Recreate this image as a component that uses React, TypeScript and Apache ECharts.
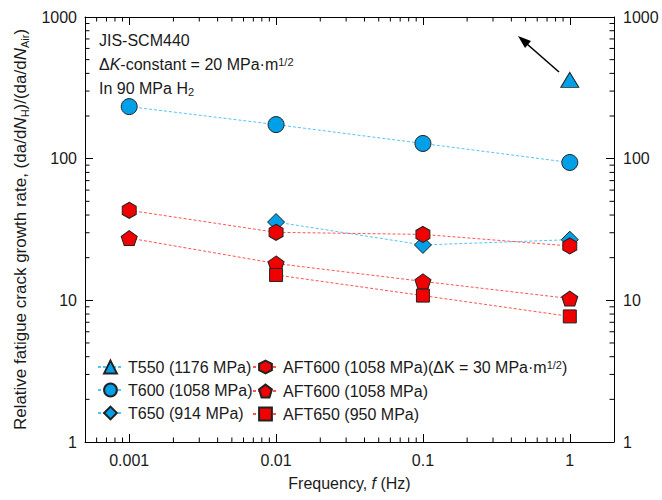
import React, { useEffect, useRef } from "react";
import * as echarts from "echarts";

const FONT = "'Liberation Sans', Arial, Helvetica, sans-serif";
const TXT = "#1a1a1a";
const BLUE = "#00A0E9";
const RED = "#F00000";
const BLUE_LINE = "#55C4F5";
const RED_LINE = "#FF5555";

// Frequencies (Hz)
const xT550 = [1];
const yT550 = [360];
const xT600 = [0.001, 0.01, 0.1, 1];
const yT600 = [233, 174, 128, 94];
const xT650 = [0.01, 0.1, 1];
const yT650 = [35.7, 24.6, 26.8];
const xAFT600dk30 = [0.001, 0.01, 0.1, 1];
const yAFT600dk30 = [43.2, 30.2, 29.2, 24.2];
const xAFT600 = [0.001, 0.01, 0.1, 1];
const yAFT600 = [27.5, 18.2, 13.6, 10.3];
const xAFT650 = [0.01, 0.1, 1];
const yAFT650 = [15.1, 10.8, 7.7];

const xTickValues = [0.001, 0.01, 0.1, 1];
const xTickLabels = ["0.001", "0.01", "0.1", "1"];
const yTickValues = [1, 10, 100, 1000];
const yTickLabels = ["1", "10", "100", "1000"];
const xMinorTicks = [
  0.0006, 0.0007, 0.0008, 0.0009,
  0.002, 0.003, 0.004, 0.005, 0.006, 0.007, 0.008, 0.009,
  0.02, 0.03, 0.04, 0.05, 0.06, 0.07, 0.08, 0.09,
  0.2, 0.3, 0.4, 0.5, 0.6, 0.7, 0.8, 0.9,
];
const yMinorTicks = [
  2, 3, 4, 5, 6, 7, 8, 9,
  20, 30, 40, 50, 60, 70, 80, 90,
  200, 300, 400, 500, 600, 700, 800, 900,
];

const names = [
  "T550 (1176 MPa)",
  "T600 (1058 MPa)",
  "T650 (914 MPa)",
  "AFT600 (1058 MPa)(ΔK = 30 MPa·m1/2)",
  "AFT600 (1058 MPa) ",
  "AFT650 (950 MPa)",
];

const HEX = "path://M0,-1L0.866,-0.5L0.866,0.5L0,1L-0.866,0.5L-0.866,-0.5Z";
const PENT = "path://M0,-1L0.951,-0.309L0.588,0.809L-0.588,0.809L-0.951,-0.309Z";

const zip = (xs: number[], ys: number[]) => xs.map((x, i) => [x, ys[i]]);

function labelFor(values: number[], labels: string[]) {
  return (v: number) => {
    for (let i = 0; i < values.length; i++) {
      if (Math.abs(v - values[i]) / values[i] < 1e-6) return labels[i];
    }
    return "";
  };
}

function mkSeries(
  name: string,
  data: number[][],
  symbol: string,
  size: number | number[],
  fill: string,
  line: string
) {
  return {
    name,
    type: "line",
    data,
    symbol,
    symbolSize: size,
    itemStyle: { color: fill, borderColor: "#222", borderWidth: 1 },
    lineStyle: { color: line, width: 1, type: [3, 2] },
    xAxisIndex: 0,
    yAxisIndex: 0,
    z: 3,
  };
}

const legendText = {
  color: TXT,
  fontSize: 16,
  fontFamily: FONT,
  lineHeight: 16,
  rich: {
    sup: { fontSize: 11, fontFamily: FONT, color: TXT, verticalAlign: "top", lineHeight: 11, padding: [0, 0, 6, 0] },
  },
};

export default function App() {
  const ref = useRef<HTMLDivElement>(null);
  useEffect(() => {
    if (!ref.current) return;
    const chart = echarts.init(ref.current, undefined, { renderer: "svg" });
    const axisLine = { show: true, lineStyle: { color: "#000", width: 1 } };
    const xCommon = {
      type: "log",
      min: 0.0005,
      max: 2,
      splitLine: { show: false },
      axisLine,
    };
    const yCommon = {
      type: "log",
      min: 1,
      max: 1000,
      splitLine: { show: false },
      axisLine,
    };
    const legendCommon = {
      orient: "vertical",
      top: 359,
      itemWidth: 25,
      itemHeight: 16,
      itemGap: 7,
      padding: 0,
      selectedMode: false,
      textStyle: legendText,
    };
    const option = {
      animation: false,
      textStyle: { fontFamily: FONT },
      grid: { left: 85, right: 48, top: 17, bottom: 58, containLabel: false },
      xAxis: [
        {
          ...xCommon,
          position: "bottom",
          axisTick: { inside: true, length: 8, lineStyle: { color: "#000" } },
          axisLabel: {
            formatter: labelFor(xTickValues, xTickLabels),
            color: TXT,
            fontSize: 16,
            fontFamily: FONT,
            margin: 10,
            showMinLabel: true,
            showMaxLabel: true,
          },
          name: "Frequency, {i|f} (Hz)",
          nameLocation: "middle",
          nameGap: 33,
          nameTextStyle: {
            color: TXT,
            fontSize: 16,
            fontFamily: FONT,
            rich: { i: { fontStyle: "italic", fontSize: 16, fontFamily: FONT, color: TXT } },
          },
        },
        {
          ...xCommon,
          position: "top",
          axisTick: { inside: true, length: 8, lineStyle: { color: "#000" } },
          axisLabel: { show: false },
        },
      ],
      yAxis: [
        {
          ...yCommon,
          position: "left",
          axisTick: { inside: true, length: 8, lineStyle: { color: "#000" } },
          axisLabel: {
            formatter: labelFor(yTickValues, yTickLabels),
            color: TXT,
            fontSize: 16,
            fontFamily: FONT,
            margin: 8,
          },
          name:
            "Relative fatigue crack growth rate, (da/d{i|N}{sub|H})/(da/d{i|N}{sub|Air})",
          nameLocation: "middle",
          nameGap: 54,
          nameTextStyle: {
            color: TXT,
            fontSize: 17,
            fontFamily: FONT,
            lineHeight: 20,
            rich: {
              i: { fontStyle: "italic", fontSize: 17, fontFamily: FONT, color: TXT, lineHeight: 20 },
              sub: { fontSize: 11, fontFamily: FONT, color: TXT, verticalAlign: "bottom", lineHeight: 14, padding: [8, 0, 0, 0] },
            },
          },
        },
        {
          ...yCommon,
          position: "right",
          axisTick: { inside: true, length: 8, lineStyle: { color: "#000" } },
          axisLabel: {
            formatter: labelFor(yTickValues, yTickLabels),
            color: TXT,
            fontSize: 16,
            fontFamily: FONT,
            margin: 9,
          },
        },
      ],
      legend: [
        {
          ...legendCommon,
          data: names.slice(0, 3),
          left: 97,
        },
        {
          ...legendCommon,
          data: names.slice(3),
          left: 252,
          formatter: (n: string) =>
            n === names[3] ? "AFT600 (1058 MPa)(ΔK = 30 MPa·m{sup|1/2})" : n.trim(),
        },
      ],
      graphic: [
        {
          type: "text",
          left: 99,
          top: 32,
          style: {
            text: "JIS-SCM440",
            fill: TXT,
            font: `16px ${FONT}`,
          },
        },
        {
          type: "text",
          left: 99,
          top: 56,
          style: {
            text: "Δ{i|K}-constant = 20 MPa·m{sup|1/2}",
            fill: TXT,
            font: `16px ${FONT}`,
            rich: {
              i: { fontStyle: "italic", fontSize: 16, fontFamily: FONT, fill: TXT },
              sup: { fontSize: 11, fontFamily: FONT, fill: TXT, verticalAlign: "top", padding: [0, 0, 6, 0] },
            },
          },
        },
        {
          type: "text",
          left: 99,
          top: 80,
          style: {
            text: "In 90 MPa H{sub|2}",
            fill: TXT,
            font: `16px ${FONT}`,
            rich: {
              sub: { fontSize: 11, fontFamily: FONT, fill: TXT, verticalAlign: "bottom", padding: [7, 0, 0, 0] },
            },
          },
        },
        {
          type: "line",
          shape: { x1: 559, y1: 72, x2: 527, y2: 44 },
          style: { stroke: "#000", lineWidth: 1.6 },
        },
        {
          type: "polygon",
          shape: { points: [[518, 36], [531, 41], [525, 48]] },
          style: { fill: "#000" },
        },
      ],
      series: [
        mkSeries(names[0], zip(xT550, yT550), "triangle", [18, 15], BLUE, BLUE_LINE),
        mkSeries(names[1], zip(xT600, yT600), "circle", 16, BLUE, BLUE_LINE),
        mkSeries(names[2], zip(xT650, yT650), "diamond", 17, BLUE, BLUE_LINE),
        mkSeries(names[3], zip(xAFT600dk30, yAFT600dk30), HEX, [14, 16], RED, RED_LINE),
        mkSeries(names[4], zip(xAFT600, yAFT600), PENT, [16, 15], RED, RED_LINE),
        mkSeries(names[5], zip(xAFT650, yAFT650), "rect", 13, RED, RED_LINE),
        {
          type: "custom",
          silent: true,
          clip: false,
          data: xMinorTicks.map((v) => [v, 10]),
          renderItem: (params: any, api: any) => {
            const p = api.coord([api.value(0), 10]);
            const cs = params.coordSys;
            const b = cs.y + cs.height;
            return {
              type: "group",
              children: [
                { type: "line", shape: { x1: p[0], y1: b, x2: p[0], y2: b - 4.5 }, style: { stroke: "#000", lineWidth: 1 } },
                { type: "line", shape: { x1: p[0], y1: cs.y, x2: p[0], y2: cs.y + 4.5 }, style: { stroke: "#000", lineWidth: 1 } },
              ],
            };
          },
        },
        {
          type: "custom",
          silent: true,
          clip: false,
          data: yMinorTicks.map((v) => [0.01, v]),
          renderItem: (params: any, api: any) => {
            const p = api.coord([0.01, api.value(1)]);
            const cs = params.coordSys;
            const r = cs.x + cs.width;
            return {
              type: "group",
              children: [
                { type: "line", shape: { x1: cs.x, y1: p[1], x2: cs.x + 4.5, y2: p[1] }, style: { stroke: "#000", lineWidth: 1 } },
                { type: "line", shape: { x1: r, y1: p[1], x2: r - 4.5, y2: p[1] }, style: { stroke: "#000", lineWidth: 1 } },
              ],
            };
          },
        },
      ],
    };
    chart.setOption(option as any);
    return () => chart.dispose();
  }, []);
  return <div ref={ref} style={{ width: 662, height: 500, position: "absolute", left: 0, top: 0 }} />;
}
